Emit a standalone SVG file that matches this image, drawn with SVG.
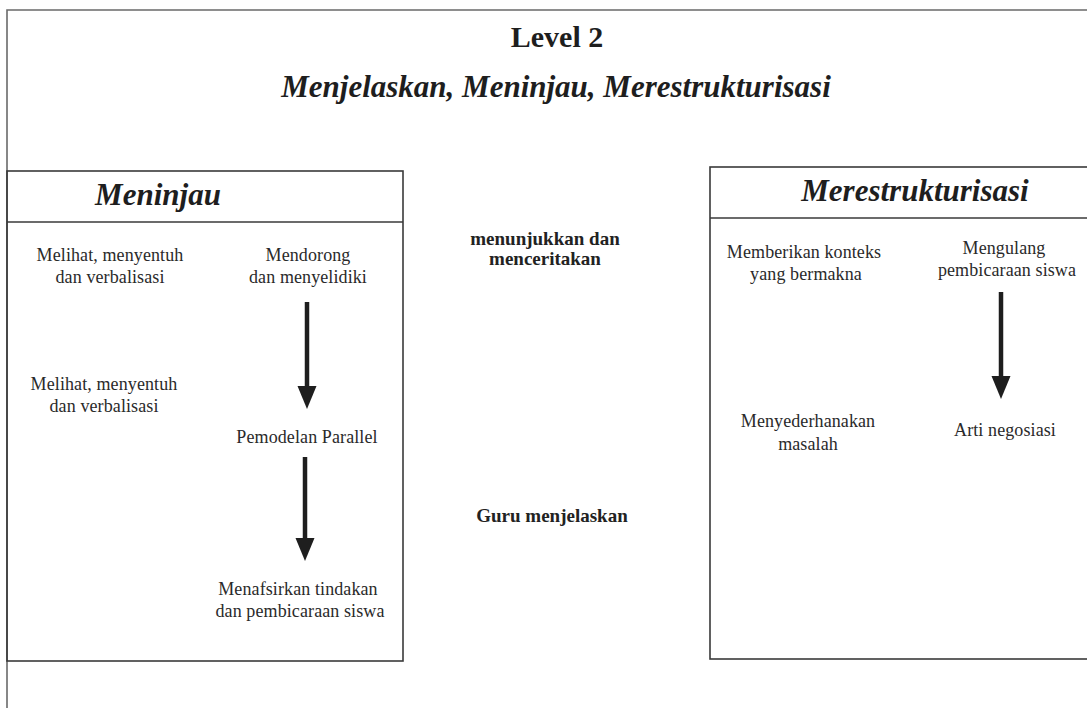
<svg xmlns="http://www.w3.org/2000/svg" width="1087" height="708" viewBox="0 0 1087 708">
  <style>
    .frame { fill: none; stroke: #6a6a6a; stroke-width: 1.6; }
    .box { fill: none; stroke: #3a3a3a; stroke-width: 1.6; }
    .divider { stroke: #3a3a3a; stroke-width: 1.6; }
    .title { font-family: "Liberation Serif", "Times New Roman", serif; font-weight: bold; fill: #1e1e1e; text-anchor: middle; }
    .head { font-family: "Liberation Serif", "Times New Roman", serif; font-weight: bold; font-style: italic; fill: #1e1e1e; text-anchor: middle; }
    .body { font-family: "Liberation Serif", "Times New Roman", serif; font-size: 18px; letter-spacing: 0.1px; fill: #2a2a2a; text-anchor: middle; }
    .note { font-family: "Liberation Serif", "Times New Roman", serif; font-size: 19px; font-weight: bold; fill: #222; text-anchor: middle; }
    .shaft { stroke: #1e1e1e; stroke-width: 4.5; }
    .tip { fill: #1e1e1e; }
  </style>

  <rect width="1087" height="708" fill="#ffffff"/>

  <!-- outer frame (open on the right and bottom) -->
  <path class="frame" d="M7 708 V10 H1090"/>

  <!-- titles -->
  <g id="title">
    <text class="title" x="557" y="47" font-size="30">Level 2</text>
    <text class="head" x="556" y="97" font-size="31">Menjelaskan, Meninjau, Merestrukturisasi</text>
  </g>

  <!-- left panel -->
  <g id="meninjau">
    <rect class="box" x="7" y="171" width="396" height="490"/>
    <line class="divider" x1="7" y1="222" x2="403" y2="222"/>
    <text class="head" x="158" y="205" font-size="31">Meninjau</text>
  </g>
  <g id="melihat-1">
    <text class="body" x="110" y="261">Melihat, menyentuh</text>
    <text class="body" x="110" y="283">dan verbalisasi</text>
  </g>
  <g id="melihat-2">
    <text class="body" x="104" y="390">Melihat, menyentuh</text>
    <text class="body" x="104" y="412">dan verbalisasi</text>
  </g>
  <g id="mendorong">
    <text class="body" x="308" y="261">Mendorong</text>
    <text class="body" x="308" y="283">dan menyelidiki</text>
  </g>
  <g id="pemodelan">
    <text class="body" x="307" y="443">Pemodelan Parallel</text>
  </g>
  <g id="menafsirkan">
    <text class="body" x="298" y="595">Menafsirkan tindakan</text>
    <text class="body" x="300" y="617">dan pembicaraan siswa</text>
  </g>

  <!-- middle notes -->
  <g id="menunjukkan">
    <text class="note" x="545" y="245">menunjukkan dan</text>
    <text class="note" x="545" y="265">menceritakan</text>
  </g>
  <g id="guru">
    <text class="note" x="552" y="522">Guru menjelaskan</text>
  </g>

  <!-- right panel -->
  <g id="merestrukturisasi">
    <rect class="box" x="710" y="167" width="390" height="492"/>
    <line class="divider" x1="710" y1="218" x2="1100" y2="218"/>
    <text class="head" x="915" y="201" font-size="31">Merestrukturisasi</text>
  </g>
  <g id="memberikan">
    <text class="body" x="804" y="258">Memberikan konteks</text>
    <text class="body" x="806" y="280">yang bermakna</text>
  </g>
  <g id="mengulang">
    <text class="body" x="1004" y="254">Mengulang</text>
    <text class="body" x="1007" y="276">pembicaraan siswa</text>
  </g>
  <g id="menyederhanakan">
    <text class="body" x="808" y="427">Menyederhanakan</text>
    <text class="body" x="808" y="450">masalah</text>
  </g>
  <g id="arti">
    <text class="body" x="1005" y="436">Arti negosiasi</text>
  </g>

  <!-- connectors -->
  <g id="connectors">
    <line class="shaft" x1="307" y1="302" x2="307" y2="388"/>
    <polygon class="tip" points="297.5,386 316.5,386 307,409"/>
    <line class="shaft" x1="305" y1="457" x2="305" y2="540"/>
    <polygon class="tip" points="295.5,538 314.5,538 305,561"/>
    <line class="shaft" x1="1001" y1="292" x2="1001" y2="378"/>
    <polygon class="tip" points="991.5,376 1010.5,376 1001,399"/>
  </g>
</svg>
